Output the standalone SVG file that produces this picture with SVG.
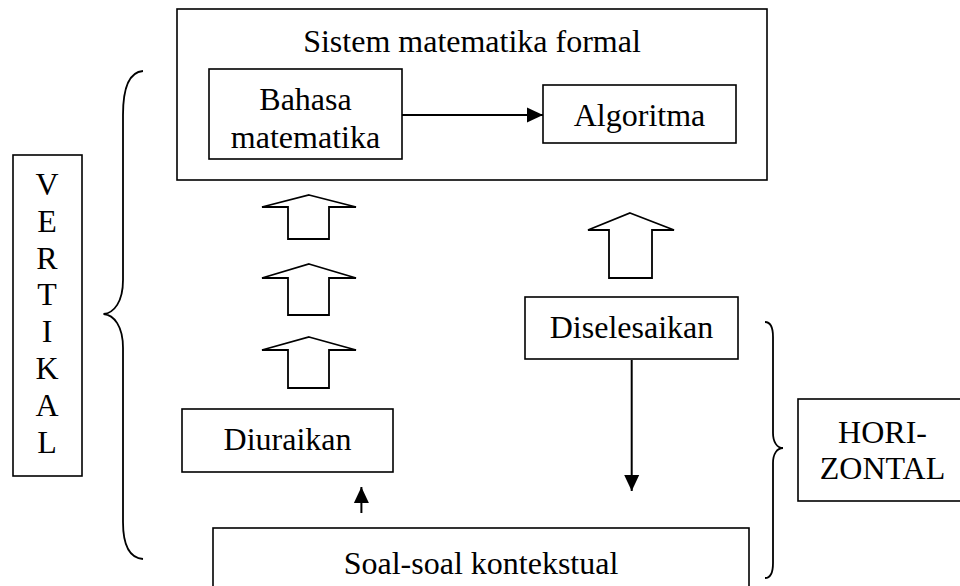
<svg xmlns="http://www.w3.org/2000/svg" width="960" height="586" viewBox="0 0 960 586">
<style>
.box{fill:#fff;stroke:#000;stroke-width:1.6}
.t{font-family:"Liberation Serif","Times New Roman",serif;font-size:32px;fill:#000;text-anchor:middle}
.blk{fill:#fff;stroke:#000;stroke-width:1.8;stroke-linejoin:miter}
.ln{fill:none;stroke:#000;stroke-width:2}
.br{fill:none;stroke:#000;stroke-width:1.8}
</style>
<defs>
<marker id="ah" viewBox="0 0 16 16" refX="16" refY="8" markerWidth="16" markerHeight="16" markerUnits="userSpaceOnUse" orient="auto">
<path d="M0,0.5 L16,8 L0,15.5 Z" fill="#000"/>
</marker>
</defs>
<rect width="960" height="586" fill="#fff"/>
<g id="sistem">
<rect class="box" x="177" y="9" width="590" height="171"/>
<text class="t" x="472" y="52">Sistem matematika formal</text>
</g>
<g id="bahasa">
<rect class="box" x="209" y="69" width="193" height="90"/>
<text class="t" x="305.5" y="110">Bahasa</text>
<text class="t" x="305.5" y="148">matematika</text>
</g>
<g id="algoritma">
<rect class="box" x="543" y="85" width="193" height="58"/>
<text class="t" x="639.5" y="126">Algoritma</text>
</g>
<g id="diselesaikan">
<rect class="box" x="525" y="297" width="213" height="62"/>
<text class="t" x="631.5" y="338">Diselesaikan</text>
</g>
<g id="diuraikan">
<rect class="box" x="182" y="409" width="211" height="63"/>
<text class="t" x="287.5" y="450">Diuraikan</text>
</g>
<g id="soal">
<rect class="box" x="213" y="528" width="536" height="70"/>
<text class="t" x="481" y="574">Soal-soal kontekstual</text>
</g>
<g id="vertikal">
<rect class="box" x="13" y="155" width="69" height="321"/>
<text class="t" x="47" y="195">V</text>
<text class="t" x="47" y="232">E</text>
<text class="t" x="47" y="269">R</text>
<text class="t" x="47" y="305">T</text>
<text class="t" x="47" y="342">I</text>
<text class="t" x="47" y="379">K</text>
<text class="t" x="47" y="416">A</text>
<text class="t" x="47" y="453">L</text>
</g>
<g id="horizontal">
<rect class="box" x="798" y="399" width="172" height="102"/>
<text class="t" x="882.5" y="443">HORI-</text>
<text class="t" x="882.5" y="479">ZONTAL</text>
</g>
<g id="connectors">
<line class="ln" x1="402" y1="115" x2="543" y2="115" marker-end="url(#ah)"/>
<line class="ln" x1="631.7" y1="360" x2="631.7" y2="491" marker-end="url(#ah)"/>
<line class="ln" x1="361.4" y1="513" x2="361.4" y2="487" marker-end="url(#ah)"/>
<path class="blk" d="M309,195 L356,207 L329,207 L329,239 L288,239 L288,207 L262,207 Z"/>
<path class="blk" d="M309,264 L356,278 L329,278 L329,315 L288,315 L288,278 L262,278 Z"/>
<path class="blk" d="M309,337 L356,350 L329,350 L329,388 L288,388 L288,350 L262,350 Z"/>
<path class="blk" d="M630,213 L674,230 L652,230 L652,278 L609,278 L609,230 L588,230 Z"/>
</g>
<g id="braces">
<path class="br" d="M143,71 C130,72 123,85 123,115 L123,280 C123,302 114,313 103.5,314 C114,315 123,326 123,348 L123,522 C123,545 130,558 143,559"/>
<path class="br" d="M765,322 C770,322 773,327 773,337 L773,433 C773,442 777,448 783,448 C777,448 773,454 773,463 L773,563 C773,573 770,578 765,578"/>
</g>
</svg>
